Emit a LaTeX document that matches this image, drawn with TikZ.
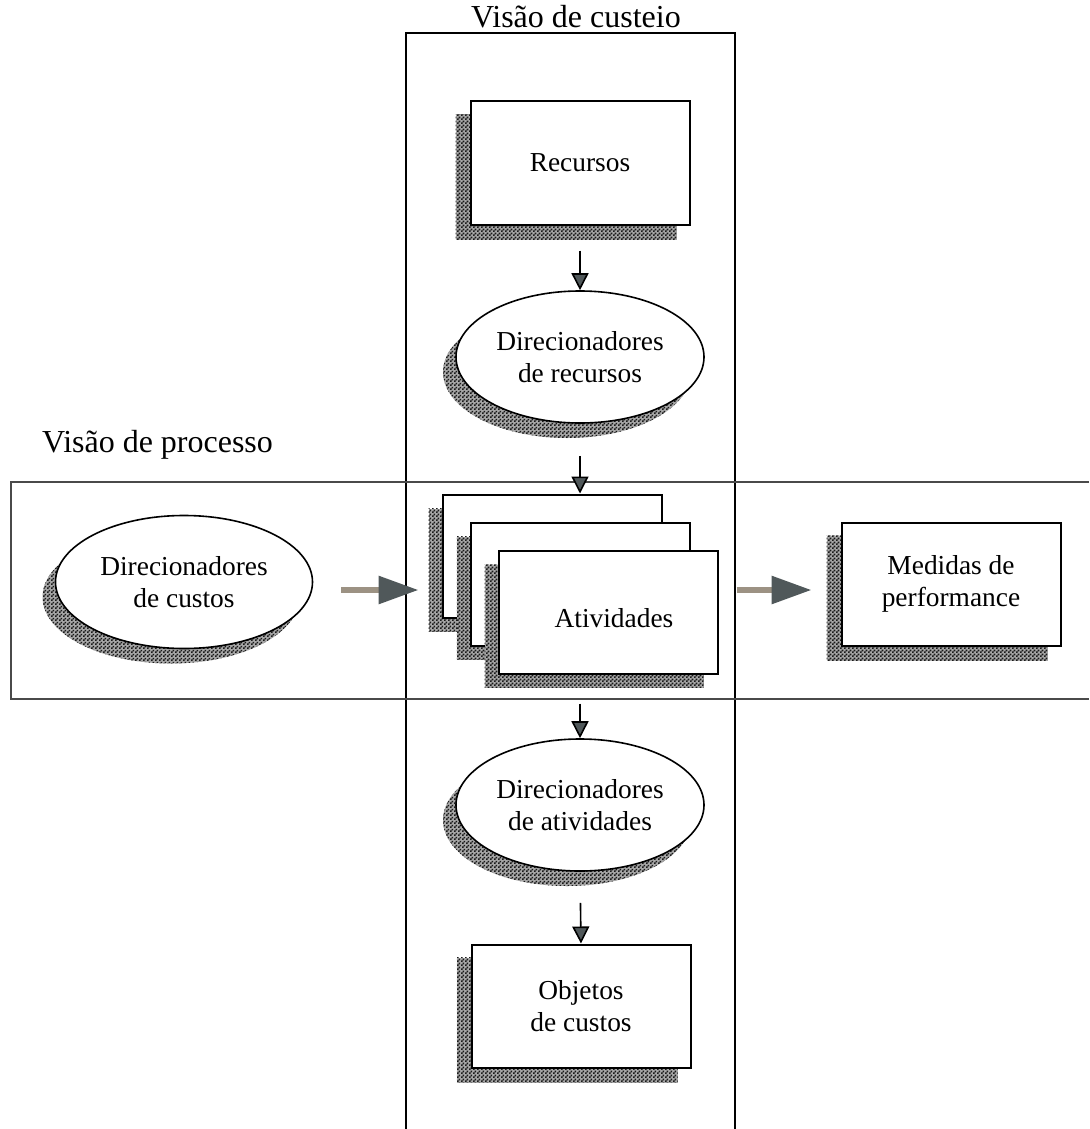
\documentclass[tikz,border=0pt]{standalone}
\usepackage{fontspec}
\setmainfont{Liberation Serif}
\usetikzlibrary{shapes.geometric,arrows.meta,backgrounds,patterns,calc}

% fine checker dots used for the drop shadows
\pgfdeclarepatternformonly{shadowdots}{\pgfpointorigin}{\pgfpoint{1.8pt}{1.8pt}}{\pgfpoint{1.8pt}{1.8pt}}{%
  \pgfpathrectangle{\pgfpointorigin}{\pgfpoint{0.9pt}{0.9pt}}%
  \pgfpathrectangle{\pgfpoint{0.9pt}{0.9pt}}{\pgfpoint{0.9pt}{0.9pt}}%
  \pgfusepath{fill}}

\definecolor{headgray}{HTML}{50585A}
\definecolor{shaftgray}{HTML}{9C9283}
\definecolor{bandgray}{HTML}{4A4A4A}

\tikzset{
  lbl/.style={font=\fontsize{13.7}{16}\selectfont, align=center},
  boxnode/.style={lbl, draw=black, line width=1pt, fill=white,
    minimum width=109.5pt, minimum height=61.5pt, inner sep=0pt},
  ovalnode/.style={lbl, ellipse, draw=black, line width=0.8pt, fill=white,
    minimum width=124pt, minimum height=66pt, inner sep=0pt},
  shadowfill/.style={preaction={fill=black!35}, pattern=shadowdots, pattern color=black!90},
  smallarrow/.style={draw=black, line width=0.8pt,
    -{Triangle[length=8.5pt,width=8.5pt,fill=headgray]}},
  bigarrow/.style={draw=shaftgray, line width=3pt,
    -{Triangle[length=20pt,width=13.5pt,fill=headgray,color=headgray]}},
  frameline/.style={draw=black, line width=0.9pt},
  bandline/.style={draw=bandgray, line width=0.9pt},
  heading/.style={font=\fontsize{16}{18}\selectfont}
}

\begin{document}
\begin{tikzpicture}[x=0.5pt,y=-0.5pt]
  \useasboundingbox (0,0) rectangle (1089,1129);

  % the two views: a vertical column and a horizontal band
  \draw[frameline] (406,1129) -- (406,33) -- (735,33) -- (735,1129);
  \draw[bandline] (1089,482) -- (11,482) -- (11,699) -- (1089,699);
  \node[heading] (tcusteio) at (576,17) {Visão de custeio};
  \node[heading, anchor=west] (tprocesso) at (35,445) {Visão de processo};

  % costing column
  \node[boxnode] (rec) at (580,163) {Recursos};
  \node[ovalnode] (drec) at (580,357) {Direcionadores\\de recursos};
  \node[ovalnode] (datv) at (580,805) {Direcionadores\\de atividades};
  \node[boxnode] (obj) at (581,1006) {Objetos\\de custos};

  % stacked activity cards, each with its own shadow, back to front
  \foreach \name/\cx/\cy in {a1/552/556, a2/580/584, a3/608/612}{
    \fill[shadowfill] (\cx-109.5-14,\cy-61.5+14) rectangle (\cx+109.5-14,\cy+61.5+14);
    \node[boxnode] (\name) at (\cx,\cy) {};
  }
  \node[lbl] (ativ) at (614,618) {Atividades};

  % process band
  \node[ovalnode, minimum width=128.5pt, minimum height=66.5pt] (dcust) at (184,582) {Direcionadores\\de custos};
  \node[boxnode] (med) at (951,584) {Medidas de\\performance};

  % drop shadows, offset down and to the left
  \begin{scope}[on background layer]
    \foreach \n in {rec,obj,med}{
      \fill[shadowfill] ($(\n.south west)+(-14,14)$) rectangle ($(\n.north east)+(-14,14)$);
    }
    \fill[shadowfill] ($(drec.center)+(-13,15)$) ellipse (124 and 66);
    \fill[shadowfill] ($(datv.center)+(-13,15)$) ellipse (124 and 66);
    \fill[shadowfill] ($(dcust.center)+(-13,15)$) ellipse (128.5 and 66.5);
  \end{scope}

  % flows
  \coordinate (flow) at (0,590);
  \draw[smallarrow, shorten <=12.5pt] (rec.south) -- (drec.north);
  \draw[smallarrow, shorten <=16pt] (drec.south) -- (drec.south |- a1.north);
  \draw[smallarrow, shorten <=14.5pt] (datv.north |- a3.south) -- (datv.north);
  \draw[smallarrow, shorten <=15.5pt] (datv.south) -- (obj.north);
  \draw[bigarrow, shorten <=14pt, shorten >=11.5pt] (dcust.east |- flow) -- (a1.west |- flow);
  \draw[bigarrow, shorten <=9pt, shorten >=14.5pt] (a3.east |- flow) -- (med.west |- flow);
\end{tikzpicture}
\end{document}
